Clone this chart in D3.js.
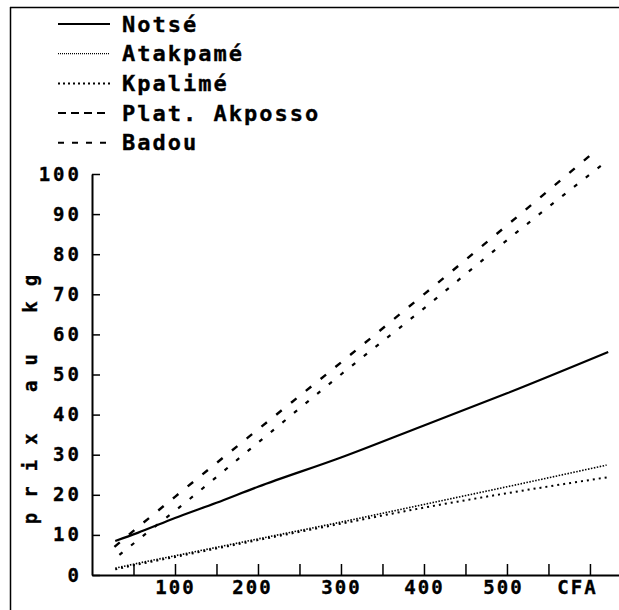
<!DOCTYPE html>
<html><head><meta charset="utf-8">
<script src="https://cdn.jsdelivr.net/npm/d3@7"></script>
<style>
html,body{margin:0;padding:0;background:#fff;}
svg{display:block;}
text{font-family:"DejaVu Sans Mono",monospace;font-weight:bold;fill:#000;stroke:#000;stroke-width:0.35px;}
</style></head>
<body>
<script>
// ---- data ----
const seriesNames = ["Notsé", "Atakpamé", "Kpalimé", "Plat. Akposso", "Badou"];
const notse       = [[28,8.5],[55,10.5],[100,14.2],[150,18],[200,22],[300,29.3],[400,37.3],[500,45.3],[622,55.6]];
const atakpame    = [[28,1.7],[50,2.7],[100,4.8],[200,9],[300,13.2],[400,17.6],[500,22],[620,27.4]];
const kpalime     = [[28,1.4],[50,2.4],[100,4.5],[200,8.7],[300,12.8],[400,16.8],[500,20.4],[622,24.4]];
const platAkposso = [[33,5],[60,9.5],[100,16],[200,33],[300,50],[400,66.5],[500,83.5],[622,103.5]];
const badou       = [[27,7],[50,11],[100,19.5],[200,36.3],[300,53],[400,70],[500,87.2],[600,104.6]];
const yTicks = [0,10,20,30,40,50,60,70,80,90,100];
const xTicks = [50,100,150,200,250,300,350,400,450,500,550,600];
const xTickLabels = {100:"100",200:"200",300:"300",400:"400",500:"500",600:"CFA"};
const yTitle = "prix au kg";

const W = 619, H = 610;
const svg = d3.select("body").append("svg").attr("width", W).attr("height", H);

const x = d3.scaleLinear().domain([0, 635]).range([92, 619]);
const y = d3.scaleLinear().domain([0, 100]).range([575, 174]);

// frame (scan border)
svg.append("line").attr("x1",10.5).attr("x2",10.5).attr("y1",7).attr("y2",610).attr("stroke","#000").attr("stroke-width",1.5);
svg.append("line").attr("x1",10).attr("x2",619).attr("y1",7.5).attr("y2",7.5).attr("stroke","#000").attr("stroke-width",1.5);

// axes
const yAxis = d3.axisLeft(y).tickValues(yTicks).tickSizeInner(-8).tickSizeOuter(0).tickPadding(10).tickFormat(d3.format("d"));
const gy = svg.append("g").attr("transform","translate(92,0)").call(yAxis);
gy.selectAll("text").style("font-size","19px").style("letter-spacing","3px");
gy.select(".domain").attr("stroke-width",2);
gy.selectAll(".tick line").attr("stroke-width",1.5);

const labelShift = {200:-6, 500:-4, 600:-13};
const xAxis = d3.axisBottom(x).tickValues(xTicks).tickSizeInner(-11).tickSizeOuter(0).tickPadding(6)
  .tickFormat(d => xTickLabels[d] || "");
const gx = svg.append("g").attr("transform","translate(0,575)").call(xAxis);
gx.selectAll("text").style("font-size","19px").style("letter-spacing","2px")
  .attr("dx", d => labelShift[d] || 0);
gx.select(".domain").attr("stroke-width",2);
gx.selectAll(".tick line").attr("stroke-width",1.5);

// y title
svg.append("text").attr("transform","translate(30,392) rotate(-90)")
  .attr("text-anchor","middle").attr("dominant-baseline","central")
  .style("font-size","19px").style("letter-spacing","15px").text(yTitle);

// series
const styles = [
  {data: notse, dash: null, w: 2.2},
  {data: atakpame, dash: "1.5,1.5", w: 1.6},
  {data: kpalime, dash: "2,4", w: 2},
  {data: platAkposso, dash: "4,11", w: 2.2},
  {data: badou, dash: "7,12", w: 2.4}
];
const line = d3.line().x(d => x(d[0])).y(d => y(d[1])).curve(d3.curveMonotoneX);
styles.forEach(s => {
  svg.append("path").datum(s.data).attr("d", line).attr("fill","none")
    .attr("stroke", "#000").attr("stroke-width", s.w)
    .attr("stroke-dasharray", s.dash);
});

// legend
const legendDash = [null, "1,1", "2,3", "8,5", "6,8"];
const legendW = [2, 1.2, 2, 2, 2];
const lg = svg.append("g");
seriesNames.forEach((name, i) => {
  const yy = 24 + i * 29.7;
  lg.append("line").attr("x1",58).attr("x2",110).attr("y1",yy).attr("y2",yy)
    .attr("stroke","#000").attr("stroke-width",legendW[i]).attr("stroke-dasharray",legendDash[i]);
  lg.append("text").attr("x",122).attr("y",yy).attr("dominant-baseline","central")
    .style("font-size","22px").style("letter-spacing","2px").text(name);
});
</script>
</body></html>
